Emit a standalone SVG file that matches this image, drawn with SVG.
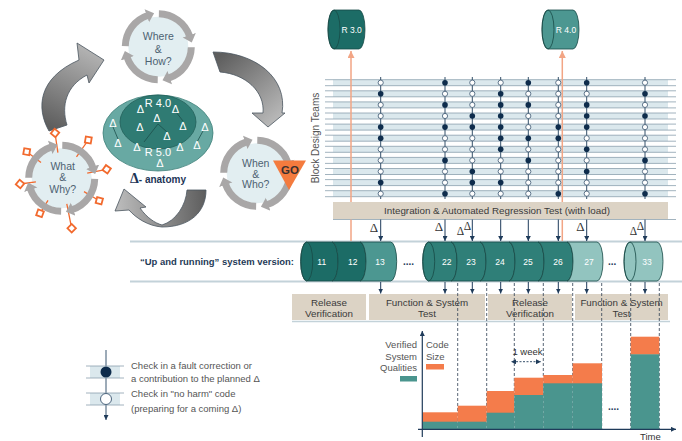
<svg xmlns="http://www.w3.org/2000/svg" width="682" height="441" viewBox="0 0 682 441">
<defs>
<style>
text{font-family:"Liberation Sans",Arial,sans-serif}
.lbl{font-size:10.5px;fill:#4d6272;text-anchor:middle}
.inner{fill:#e2eef1}
.ring{fill:none;stroke:#a9a7a7;stroke-width:7;marker-end:url(#rh)}
.gl{fill:none;stroke:#8aa0ad;stroke-width:0.8}
.band{fill:#dbe8ed}
.col{stroke:#35506a;stroke-width:1;fill:none}
.arr{stroke:#1f3b5a;stroke-width:1;fill:none;marker-end:url(#ah)}
.dash{stroke:#2d3e50;stroke-width:0.8;stroke-dasharray:3 2;fill:none}
.box{fill:#dcd3c5}
.bt{font-size:9.8px;fill:#3a3a3a;text-anchor:middle}
.cl{font-size:8.5px;fill:#fff;text-anchor:middle}
.cyl{stroke:#184a46;stroke-width:0.8}
.dk{fill:#1c6c66}.md{fill:#4c9791}.mt{fill:#2f7f78}.lt{fill:#92c4bf}
.cap{fill:none;stroke:#184a46;stroke-width:0.8}
.dl{font-family:"Liberation Serif",serif;font-size:13px;fill:#333;text-anchor:middle}
.dls{font-family:"Liberation Serif",serif;font-size:11.5px;fill:#333;text-anchor:middle}
.wd{font-size:11px;fill:#fff;text-anchor:middle}
.leg{font-size:9.5px;fill:#555}
.orn{stroke:#f2a585;stroke-width:1.5;fill:none;marker-end:url(#oh)}
.dia{fill:#fff;stroke:#f26a2e;stroke-width:1.8}
.otk{stroke:#f26a2e;stroke-width:1.3}
.big{stroke:#4a5560;stroke-width:0.8}
.line2{stroke:#c3d2d9;stroke-width:2;fill:none}
.dots{font-size:10px;font-weight:bold;fill:#1f3b5a}
.ct{font-size:9.5px;fill:#555}
</style>
<marker id="ah" viewBox="0 0 6 6" refX="6" refY="3" markerWidth="5" markerHeight="5" markerUnits="userSpaceOnUse" orient="auto"><path d="M0,0 L6,3 L0,6 Z" fill="#1f3b5a"/></marker>
<marker id="ahs" viewBox="0 0 6 6" refX="0" refY="3" markerWidth="5" markerHeight="5" markerUnits="userSpaceOnUse" orient="auto-start-reverse"><path d="M0,0 L6,3 L0,6 Z" fill="#1f3b5a"/></marker>
<marker id="oh" viewBox="0 0 6 6" refX="6" refY="3" markerWidth="7" markerHeight="7" markerUnits="userSpaceOnUse" orient="auto"><path d="M0,0 L6,3 L0,6 Z" fill="#f2a585"/></marker>
<marker id="rh" viewBox="0 0 10 20" refX="1" refY="10" markerWidth="1.15" markerHeight="2.2" markerUnits="strokeWidth" orient="auto"><path d="M0,1 L10,10 L0,19 Z" fill="#a9a7a7"/></marker>
<g id="ringg">
<path class="ring" d="M-32.995,-0.576 A33,33 0 0 1 -10.74,-31.2"/>
<path class="ring" d="M0.576,-32.995 A33,33 0 0 1 31.2,-10.74"/>
<path class="ring" d="M32.995,0.576 A33,33 0 0 1 10.74,31.2"/>
<path class="ring" d="M-0.576,32.995 A33,33 0 0 1 -31.2,10.74"/>
</g>
<circle id="F" r="2.8" fill="#0e2c4c"/>
<circle id="O" r="2.6" fill="#fff" stroke="#3b5670" stroke-width="0.8"/>
<linearGradient id="g1" gradientUnits="userSpaceOnUse" x1="57" y1="130" x2="95" y2="50"><stop offset="0" stop-color="#5e5e5e"/><stop offset="1" stop-color="#b5b5b5"/></linearGradient>
<linearGradient id="g2" gradientUnits="userSpaceOnUse" x1="215" y1="60" x2="270" y2="125"><stop offset="0" stop-color="#5e5e5e"/><stop offset="1" stop-color="#b8b8b8"/></linearGradient>
<linearGradient id="g3" gradientUnits="userSpaceOnUse" x1="205" y1="195" x2="120" y2="200"><stop offset="0" stop-color="#5e5e5e"/><stop offset="1" stop-color="#b8b8b8"/></linearGradient>
</defs>
<rect width="682" height="441" fill="#fff"/>

<g id="grid-bg">
<rect class="band" x="333" y="79.7" width="335" height="6"/>
<rect class="band" x="333" y="90.8" width="335" height="6"/>
<rect class="band" x="333" y="101.9" width="335" height="6"/>
<rect class="band" x="333" y="113" width="335" height="6"/>
<rect class="band" x="333" y="124.1" width="335" height="6"/>
<rect class="band" x="333" y="135.2" width="335" height="6"/>
<rect class="band" x="333" y="146.3" width="335" height="6"/>
<rect class="band" x="333" y="157.4" width="335" height="6"/>
<rect class="band" x="333" y="168.5" width="335" height="6"/>
<rect class="band" x="333" y="179.6" width="335" height="6"/>
<rect class="band" x="333" y="190.7" width="335" height="6"/>
<path class="gl" d="M325,79.7H676M325,85.7H676M325,90.8H676M325,96.8H676M325,101.9H676M325,107.9H676M325,113H676M325,119H676M325,124.1H676M325,130.1H676M325,135.2H676M325,141.2H676M325,146.3H676M325,152.3H676M325,157.4H676M325,163.4H676M325,168.5H676M325,174.5H676M325,179.6H676M325,185.6H676M325,190.7H676M325,196.7H676"/>
<text transform="translate(318.5,138) rotate(-90)" text-anchor="middle" font-size="10" fill="#555">Block Design Teams</text>
</g>

<g id="integration-bar">
<rect class="box" x="333" y="202" width="335" height="17"/>
<path class="gl" d="M333,219.5H676"/>
<text class="bt" x="497" y="214">Integration &amp; Automated Regression Test (with load)</text>
</g>

<g id="bands">
<path class="line2" d="M130,241.5H682M130,281.5H682"/>
<path d="M292,321.5H670" stroke="#c3d2d9" stroke-width="1.5"/>
<text x="140" y="264.5" font-size="9" font-weight="bold" fill="#1f3b57" textLength="154" lengthAdjust="spacingAndGlyphs">“Up and running” system version:</text>
</g>

<g id="box-rv1"><rect class="box" x="292" y="294" width="74" height="26"/><text class="bt" x="329" y="305.5">Release</text><text class="bt" x="329" y="317">Verification</text></g>
<g id="box-fs1"><rect class="box" x="369" y="294" width="116" height="26"/><text class="bt" x="427" y="305.5">Function &amp; System</text><text class="bt" x="427" y="317">Test</text></g>
<g id="box-rv2"><rect class="box" x="488" y="294" width="84" height="26"/><text class="bt" x="530" y="305.5">Release</text><text class="bt" x="530" y="317">Verification</text></g>
<g id="box-fs2"><rect class="box" x="575" y="294" width="93" height="26"/><text class="bt" x="621.5" y="305.5">Function &amp; System</text><text class="bt" x="621.5" y="317">Test</text></g>

<g id="chart">
<path class="dash" d="M457.7,283V429M486.7,283V429M514.3,283V429M543.3,283V429M572.7,283V429M601.7,283V429M630.7,283V429M659.3,283V429"/>
<g fill="#f47c4b">
<rect x="422.3" y="412.3" width="35.4" height="10"/>
<rect x="457.7" y="405.7" width="29" height="17"/>
<rect x="486.7" y="391" width="27.6" height="22"/>
<rect x="514.3" y="377.7" width="29" height="18"/>
<rect x="543.3" y="375" width="29.4" height="9"/>
<rect x="572.7" y="363.3" width="29.3" height="21"/>
<rect x="630.7" y="336.7" width="28.6" height="18"/>
</g>
<g fill="#4a958e">
<rect x="422.3" y="421.7" width="35.4" height="7.6"/>
<rect x="457.7" y="421.7" width="29" height="7.6"/>
<rect x="486.7" y="412.7" width="27.6" height="16.6"/>
<rect x="514.3" y="395" width="29" height="34.3"/>
<rect x="543.3" y="383.3" width="29.4" height="46"/>
<rect x="572.7" y="383.3" width="29.3" height="46"/>
<rect x="630.7" y="354.3" width="28.6" height="75"/>
</g>
<text class="dots" x="608" y="410">....</text>
<text class="ct" x="417" y="348" text-anchor="end">Verified</text>
<text class="ct" x="417" y="359.5" text-anchor="end">System</text>
<text class="ct" x="417" y="370.5" text-anchor="end">Qualities</text>
<rect x="400" y="376" width="17" height="5.5" fill="#4a958e"/>
<text class="ct" x="426" y="348">Code</text>
<text class="ct" x="426" y="359.5">Size</text>
<rect x="426" y="364" width="18" height="5.5" fill="#f47c4b"/>
<text x="527.5" y="354.5" font-size="9.5" fill="#333" text-anchor="middle">1 week</text>
<text x="640" y="440" font-size="9.5" fill="#333">Time</text>
</g>

<g id="connectors">
<path class="big" fill="url(#g1)" d="M49,131 C36,108 38,78 79,60 L77,43 L104,60 L89,83 L87,75 C66,86 61,106 67,125 Z"/>
<path class="big" fill="url(#g2)" d="M213,52 C255,52 288,78 282,113 L285,113 L268,127 L252,113 L263,113 C265,92 246,74 220,72 Z"/>
<path class="big" fill="url(#g3)" d="M124,189 L146,207 L140,208 C147,218 155,223 162,225 C176,221 186,205 187,190 L206,190 C206,212 190,227 162,227 C148,226 136,218 129,210 L115,211 Z"/>
<path class="orn" d="M351,241V219.5M351,202V51"/>
<path class="orn" d="M562.3,241V219.5M562.3,202V51"/>
<path class="col" d="M380.7,77V199M445,77V199M472.3,77V199M500.7,77V199M528.3,77V199M558.3,77V199M586.7,77V199M645,77V199"/>
<path class="arr" d="M380.7,219.5V241"/><path class="arr" d="M445,219.5V241"/><path class="arr" d="M472.3,219.5V241"/><path class="arr" d="M500.7,219.5V241"/><path class="arr" d="M528.3,219.5V241"/><path class="arr" d="M558.3,219.5V241"/><path class="arr" d="M586.7,219.5V241"/><path class="arr" d="M645,219.5V241"/>
<path class="arr" d="M380.7,282V293.5"/><path class="arr" d="M445,282V293.5"/><path class="arr" d="M472.3,282V293.5"/><path class="arr" d="M500.7,282V293.5"/><path class="arr" d="M528.3,282V293.5"/><path class="arr" d="M558.3,282V293.5"/><path class="arr" d="M586.7,282V293.5"/><path class="arr" d="M645,282V293.5"/>
<path d="M422.3,437V331" stroke="#1f3b5a" stroke-width="1.2" marker-end="url(#ah)"/>
<path d="M418,429.3H676" stroke="#1f3b5a" stroke-width="1.2" marker-end="url(#ah)"/>
<path d="M516,361.7H541" stroke="#1f3b5a" stroke-width="0.9" stroke-dasharray="2 1.5" marker-start="url(#ahs)" marker-end="url(#ah)"/>
<path d="M106,350V420" stroke="#3b5670" stroke-width="1" marker-end="url(#ah)"/>
</g>

<text class="dl" x="374" y="232">Δ</text>
<text class="dl" x="439" y="231">Δ</text>
<text class="dls" x="460.5" y="235">Δ</text>
<text class="dls" x="467.5" y="229.5">Δ</text>
<text class="dl" x="580.5" y="231">Δ</text>
<text class="dls" x="633.5" y="235">Δ</text>
<text class="dls" x="640.5" y="229.5">Δ</text>

<g id="checkins">
<use href="#O" x="380.7" y="82.7"/><use href="#F" x="380.7" y="93.8"/><use href="#O" x="380.7" y="104.9"/><use href="#O" x="380.7" y="116"/><use href="#F" x="380.7" y="127.1"/><use href="#F" x="380.7" y="138.2"/><use href="#O" x="380.7" y="149.3"/><use href="#O" x="380.7" y="160.4"/><use href="#O" x="380.7" y="171.5"/><use href="#F" x="380.7" y="182.6"/><use href="#O" x="380.7" y="193.7"/>
<use href="#F" x="445" y="82.7"/><use href="#O" x="445" y="93.8"/><use href="#F" x="445" y="104.9"/><use href="#O" x="445" y="116"/><use href="#F" x="445" y="127.1"/><use href="#O" x="445" y="138.2"/><use href="#O" x="445" y="149.3"/><use href="#F" x="445" y="160.4"/><use href="#O" x="445" y="171.5"/><use href="#O" x="445" y="182.6"/><use href="#F" x="445" y="193.7"/>
<use href="#O" x="472.3" y="82.7"/><use href="#O" x="472.3" y="93.8"/><use href="#O" x="472.3" y="104.9"/><use href="#F" x="472.3" y="116"/><use href="#F" x="472.3" y="127.1"/><use href="#O" x="472.3" y="138.2"/><use href="#O" x="472.3" y="149.3"/><use href="#O" x="472.3" y="160.4"/><use href="#F" x="472.3" y="171.5"/><use href="#F" x="472.3" y="182.6"/><use href="#O" x="472.3" y="193.7"/>
<use href="#O" x="500.7" y="82.7"/><use href="#F" x="500.7" y="93.8"/><use href="#F" x="500.7" y="104.9"/><use href="#F" x="500.7" y="116"/><use href="#F" x="500.7" y="127.1"/><use href="#F" x="500.7" y="138.2"/><use href="#F" x="500.7" y="149.3"/><use href="#O" x="500.7" y="160.4"/><use href="#O" x="500.7" y="171.5"/><use href="#F" x="500.7" y="182.6"/><use href="#O" x="500.7" y="193.7"/>
<use href="#F" x="528.3" y="82.7"/><use href="#O" x="528.3" y="93.8"/><use href="#F" x="528.3" y="104.9"/><use href="#O" x="528.3" y="116"/><use href="#O" x="528.3" y="127.1"/><use href="#F" x="528.3" y="138.2"/><use href="#O" x="528.3" y="149.3"/><use href="#F" x="528.3" y="160.4"/><use href="#O" x="528.3" y="171.5"/><use href="#O" x="528.3" y="182.6"/><use href="#O" x="528.3" y="193.7"/>
<use href="#O" x="558.3" y="82.7"/><use href="#O" x="558.3" y="93.8"/><use href="#O" x="558.3" y="104.9"/><use href="#O" x="558.3" y="116"/><use href="#F" x="558.3" y="127.1"/><use href="#F" x="558.3" y="138.2"/><use href="#O" x="558.3" y="149.3"/><use href="#O" x="558.3" y="160.4"/><use href="#O" x="558.3" y="171.5"/><use href="#O" x="558.3" y="182.6"/><use href="#F" x="558.3" y="193.7"/>
<use href="#F" x="586.7" y="82.7"/><use href="#O" x="586.7" y="93.8"/><use href="#F" x="586.7" y="104.9"/><use href="#F" x="586.7" y="116"/><use href="#F" x="586.7" y="127.1"/><use href="#O" x="586.7" y="138.2"/><use href="#F" x="586.7" y="149.3"/><use href="#O" x="586.7" y="160.4"/><use href="#F" x="586.7" y="171.5"/><use href="#O" x="586.7" y="182.6"/><use href="#O" x="586.7" y="193.7"/>
<use href="#O" x="645" y="82.7"/><use href="#F" x="645" y="93.8"/><use href="#O" x="645" y="104.9"/><use href="#F" x="645" y="116"/><use href="#O" x="645" y="127.1"/><use href="#O" x="645" y="138.2"/><use href="#O" x="645" y="149.3"/><use href="#F" x="645" y="160.4"/><use href="#O" x="645" y="171.5"/><use href="#O" x="645" y="182.6"/><use href="#F" x="645" y="193.7"/>
</g>

<g id="r30"><path class="cyl dk" d="M334,10 L359,10 A6,19.5 0 0 1 359,49 L334,49 A6,19.5 0 0 1 334,10 Z"/><ellipse class="cap" cx="334" cy="29.5" rx="6" ry="19.5"/><text class="cl" x="351.7" y="32.5">R 3.0</text></g>
<g id="r40"><path class="cyl md" d="M548,10 L573,10 A6,19.5 0 0 1 573,49 L548,49 A6,19.5 0 0 1 548,10 Z"/><ellipse class="cap" cx="548" cy="29.5" rx="6" ry="19.5"/><text class="cl" x="566" y="32.5">R 4.0</text></g>

<g id="v11"><path class="cyl dk" d="M306.7,242 L332,242 A6,19.5 0 0 1 332,281 L306.7,281 A6,19.5 0 0 1 306.7,242 Z"/><ellipse class="cap" cx="306.7" cy="261.5" rx="6" ry="19.5"/><text class="cl" x="321.7" y="264.5">11</text></g>
<g id="v12"><path class="cyl dk" d="M332,242 L360,242 A6,19.5 0 0 1 360,281 L332,281 A6,19.5 0 0 0 332,242 Z"/><text class="cl" x="352.7" y="264.5">12</text></g>
<g id="v13"><path class="cyl md" d="M360,242 L390.7,242 A6,19.5 0 0 1 390.7,281 L360,281 A6,19.5 0 0 0 360,242 Z"/><text class="cl" x="380" y="264.5">13</text></g>
<text class="dots" x="403" y="265">....</text>
<g id="v22"><path class="cyl mt" d="M428.7,242 L451,242 A6,19.5 0 0 1 451,281 L428.7,281 A6,19.5 0 0 1 428.7,242 Z"/><ellipse class="cap" cx="428.7" cy="261.5" rx="6" ry="19.5"/><text class="cl" x="446.7" y="264.5">22</text></g>
<g id="v23"><path class="cyl mt" d="M451,242 L480,242 A6,19.5 0 0 1 480,281 L451,281 A6,19.5 0 0 0 451,242 Z"/><text class="cl" x="471" y="264.5">23</text></g>
<g id="v24"><path class="cyl mt" d="M480,242 L509,242 A6,19.5 0 0 1 509,281 L480,281 A6,19.5 0 0 0 480,242 Z"/><text class="cl" x="500" y="264.5">24</text></g>
<g id="v25"><path class="cyl mt" d="M509,242 L538,242 A6,19.5 0 0 1 538,281 L509,281 A6,19.5 0 0 0 509,242 Z"/><text class="cl" x="528" y="264.5">25</text></g>
<g id="v26"><path class="cyl mt" d="M538,242 L567,242 A6,19.5 0 0 1 567,281 L538,281 A6,19.5 0 0 0 538,242 Z"/><text class="cl" x="558" y="264.5">26</text></g>
<g id="v27"><path class="cyl lt" d="M567,242 L597,242 A6,19.5 0 0 1 597,281 L567,281 A6,19.5 0 0 0 567,242 Z"/><text class="cl" x="589" y="264.5">27</text></g>
<text class="dots" x="608" y="265">...</text>
<g id="v33"><path class="cyl lt" d="M630,242 L657,242 A6,19.5 0 0 1 657,281 L630,281 A6,19.5 0 0 1 630,242 Z"/><ellipse class="cap" cx="630" cy="261.5" rx="6" ry="19.5"/><text class="cl" x="647" y="264.5">33</text></g>

<g id="where-how">
<circle class="inner" cx="158.3" cy="46.7" r="30"/>
<use href="#ringg" transform="translate(158.3,46.7)"/>
<text class="lbl" x="158.3" y="40">Where</text><text class="lbl" x="158.3" y="52.5">&amp;</text><text class="lbl" x="158.3" y="65">How?</text>
</g>
<g id="what-why">
<circle class="inner" cx="61.7" cy="178.3" r="30"/>
<path class="otk" d="M55,133L57.9,152.6M88.3,140L76.5,156.9M106.7,169.3L87.2,173.2M99.3,200.7L84,191.6M71.7,228.3L66.8,203.8M40,213.3L48,200.4M20,184L35.9,181.8M26.7,151.7L41,162.6"/>
<use href="#ringg" transform="translate(61.7,178.3)"/>
<rect class="dia" x="-3" y="-3" width="6" height="6" transform="translate(55,133) rotate(40)"/>
<rect class="dia" x="-3" y="-3" width="6" height="6" transform="translate(88.3,140) rotate(10)"/>
<rect class="dia" x="-3" y="-3" width="6" height="6" transform="translate(106.7,169.3) rotate(35)"/>
<rect class="dia" x="-3" y="-3" width="6" height="6" transform="translate(99.3,200.7) rotate(15)"/>
<rect class="dia" x="-3" y="-3" width="6" height="6" transform="translate(71.7,228.3) rotate(45)"/>
<rect class="dia" x="-3" y="-3" width="6" height="6" transform="translate(40,213.3) rotate(20)"/>
<rect class="dia" x="-3" y="-3" width="6" height="6" transform="translate(20,184) rotate(40)"/>
<rect class="dia" x="-3" y="-3" width="6" height="6" transform="translate(26.7,151.7) rotate(10)"/>
<text class="lbl" x="62.7" y="169.5">What</text><text class="lbl" x="62.7" y="181">&amp;</text><text class="lbl" x="62.7" y="193">Why?</text>
</g>
<g id="when-who">
<circle class="inner" cx="256.7" cy="173.3" r="30"/>
<use href="#ringg" transform="translate(256.7,173.3)"/>
<text class="lbl" x="255.7" y="166.5">When</text><text class="lbl" x="255.7" y="177.5">&amp;</text><text class="lbl" x="255.7" y="188">Who?</text>
<polygon points="273,160.5 306,160.5 289,190" fill="#f47b3e"/>
<text x="290" y="173.5" font-size="11.5" font-weight="bold" fill="#3a3030" text-anchor="middle">GO</text>
</g>
<g id="anatomy">
<ellipse cx="158" cy="133" rx="55" ry="38" fill="#68a9a3" stroke="#3f807a" stroke-width="0.8"/>
<ellipse cx="158" cy="122" rx="38" ry="27" fill="#2f7b73" stroke="#225f59" stroke-width="0.8"/>
<path d="M176,112L183,121M158,124L167,132M158,124L144,142M113,127L118,139M203,131L197,142" stroke="#1d4f4b" stroke-width="0.8" fill="none"/>
<text class="wd" x="158" y="106.5" font-size="9.5">R 4.0</text>
<text class="wd" x="158" y="156" font-size="9.5">R 5.0</text>
<text class="wd" x="140.5" y="113">Δ</text><text class="wd" x="175.5" y="113">Δ</text><text class="wd" x="157" y="122">Δ</text>
<text class="wd" x="140" y="131">Δ</text><text class="wd" x="183" y="130">Δ</text><text class="wd" x="167" y="140">Δ</text>
<text class="wd" x="113" y="127">Δ</text><text class="wd" x="205" y="131">Δ</text><text class="wd" x="118" y="147">Δ</text>
<text class="wd" x="137" y="151">Δ</text><text class="wd" x="180" y="151">Δ</text><text class="wd" x="197" y="149">Δ</text>
<text class="wd" x="160" y="167">Δ</text>
<text x="130" y="183" fill="#1d3557" font-weight="bold"><tspan font-family="Liberation Serif,serif" font-size="14">Δ</tspan><tspan font-size="10">- anatomy</tspan></text>
</g>

<g id="legend">
<rect class="band" x="90" y="366" width="30" height="12"/>
<rect class="band" x="90" y="393" width="30" height="12"/>
<path class="gl" d="M86,366H124M86,378H124M86,393H124M86,405H124"/>
<circle cx="106" cy="372" r="5.5" fill="#0e2c4c"/>
<circle cx="106" cy="399" r="5.5" fill="#fff" stroke="#3b5670" stroke-width="0.9"/>
<text class="leg" x="131" y="368.5">Check in a fault correction or</text>
<text class="leg" x="131" y="381.5">a contribution to the planned Δ</text>
<text class="leg" x="131" y="396.5">Check in "no harm" code</text>
<text class="leg" x="131" y="411.5">(preparing for a coming Δ)</text>
</g>
</svg>
